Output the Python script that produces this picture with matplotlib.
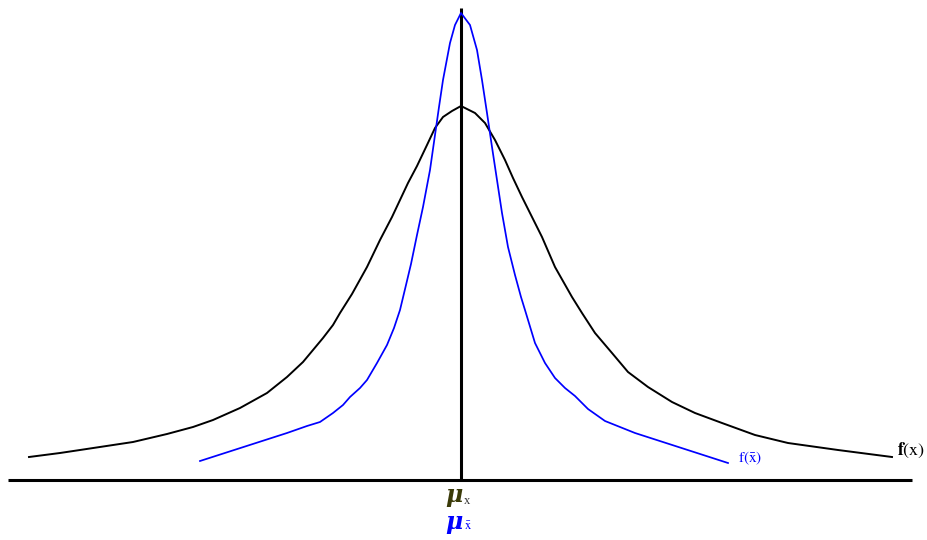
import matplotlib
matplotlib.use("Agg")
import matplotlib.pyplot as plt

# Black curve f(x): offset from the mean, height above the axis
fx_x = [-432, -401, -381, -328, -294, -268, -248, -221, -194, -174, -158, -148, -138,
        -128, -121, -109, -94, -81, -69, -61, -53, -44, -34, -26, -18, -9, 0,
        14, 24, 34, 44, 52, 61, 71, 81, 94, 111, 121, 134, 151, 167, 187, 211, 234,
        261, 294, 327, 377, 431]
fx_y = [23, 27, 30, 38, 46, 53, 60, 72, 87, 103, 118, 130, 142,
        155, 167, 186, 213, 240, 263, 280, 297, 314, 335, 352, 363, 369, 374,
        367, 357, 340, 320, 302, 283, 263, 243, 213, 183, 167, 147, 127, 108, 93, 78, 67,
        57, 45, 37, 30, 23]

# Blue curve f(x-bar)
fxb_x = [-261, -174, -154, -141, -128, -118, -111, -101, -94, -84, -74, -67, -61, -55,
         -50, -44, -38, -31, -26, -22, -18, -11, -6, 0,
         9, 16, 21, 26, 31, 36, 41, 47, 54, 60, 64, 74, 84, 94, 104, 114, 127, 144, 174, 267]
fxb_y = [19, 47, 54, 58, 67, 75, 83, 92, 100, 117, 135, 152, 170, 195,
         216, 245, 273, 310, 345, 373, 400, 437, 455, 467,
         455, 430, 400, 367, 333, 300, 267, 233, 205, 183, 170, 137, 117, 102, 92, 84, 71, 59, 47, 17]

fig = plt.figure(figsize=(9.27, 5.40), dpi=100)
ax = fig.add_axes([0, 0, 1, 1])
ax.set_xlim(-461, 466)
ax.set_ylim(-60, 480)
ax.axis("off")

# axes lines
ax.plot([-453, 451], [0, 0], color="black", lw=2.2, solid_capstyle="butt")
ax.plot([0, 0], [0, 472], color="black", lw=2.2, solid_capstyle="butt")

ax.plot(fx_x, fx_y, color="black", lw=1.4)
ax.plot(fxb_x, fxb_y, color="#0000ff", lw=1.25)

plt.rcParams["mathtext.fontset"] = "stix"

ax.text(436, 30, r"$\mathbf{f}\mathrm{(x)}$", fontsize=13, color="black",
        ha="left", va="center")
ax.text(277, 22, r"$\mathrm{f(\bar{x})}$", fontsize=11, color="#0000ff",
        ha="left", va="center")

ax.text(-7, -15, "μ", fontsize=17, fontweight="bold", style="italic",
        family="DejaVu Serif", color="#3a3a08", ha="center", va="center")
ax.text(3, -21, "x", fontsize=9, family="Liberation Serif", color="#333333",
        ha="left", va="center")
ax.text(-7, -42, "μ", fontsize=17, fontweight="bold", style="italic",
        family="DejaVu Serif", color="#0000ff", ha="center", va="center")
ax.text(3, -46, r"$\mathrm{\bar{x}}$", fontsize=9, color="#0000ff",
        ha="left", va="center")

fig.savefig("out.png", dpi=100)
